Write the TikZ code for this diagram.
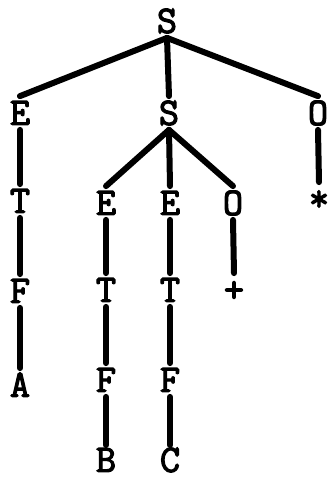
\documentclass[tikz,border=0pt]{standalone}
\usepackage{fontspec}
\newfontfamily\treefont{Latin Modern Mono}[FakeBold=3]
\begin{document}
\begin{tikzpicture}[x=1pt,y=-1pt,
  sym/.style={font=\fontsize{39}{39}\selectfont\treefont,
    text height=23.8pt, text depth=0pt, inner sep=5pt, outer sep=0pt},
  leaf/.style={sym, inner sep=3pt},
  branch/.style={line width=6pt, line cap=round, line join=round}]
  \useasboundingbox (0,0) rectangle (331,483);
  % parse tree nodes
  \node[sym] (s0) at (167,21) {S};
  \node[sym] (e1) at (20,113) {E};
  \node[sym] (s1) at (169,113) {S};
  \node[sym] (o1) at (318,113) {O};
  \node[sym] (t1) at (20,201) {T};
  \node[sym] (f1) at (20,291) {F};
  \node[sym] (a)  at (20,385) {A};
  \node[sym] (e2) at (106,203) {E};
  \node[sym] (e3) at (170,203) {E};
  \node[sym] (o2) at (233,203) {O};
  \node[sym] (t2) at (106,290) {T};
  \node[sym] (t3) at (170,290) {T};
  \node[sym] (plus) at (234,290) {+};
  \node[sym] (f2) at (106,380) {F};
  \node[sym] (f3) at (170,380) {F};
  \node[leaf] (b)  at (106,460) {B};
  \node[leaf] (c)  at (170,460) {C};
  \node[sym] (star) at (319,199) {*};
  % branches
  \draw[branch] (s0.south) -- (e1.north);
  \draw[branch] (s0.south) -- (s1.north);
  \draw[branch] (s0.south) -- (o1.north);
  \draw[branch] (s1.south) -- (e2.north);
  \draw[branch] (s1.south) -- (e3.north);
  \draw[branch] (s1.south) -- (o2.north);
  \draw[branch] (e1.south) -- (t1.north);
  \draw[branch] (t1.south) -- (f1.north);
  \draw[branch] (f1.south) -- (a.north);
  \draw[branch] (e2.south) -- (t2.north);
  \draw[branch] (t2.south) -- (f2.north);
  \draw[branch] (f2.south) -- (b.north);
  \draw[branch] (e3.south) -- (t3.north);
  \draw[branch] (t3.south) -- (f3.north);
  \draw[branch] (f3.south) -- (c.north);
  \draw[branch] (o2.south) -- (plus.north);
  \draw[branch] (o1.south) -- (star.north);
\end{tikzpicture}
\end{document}
